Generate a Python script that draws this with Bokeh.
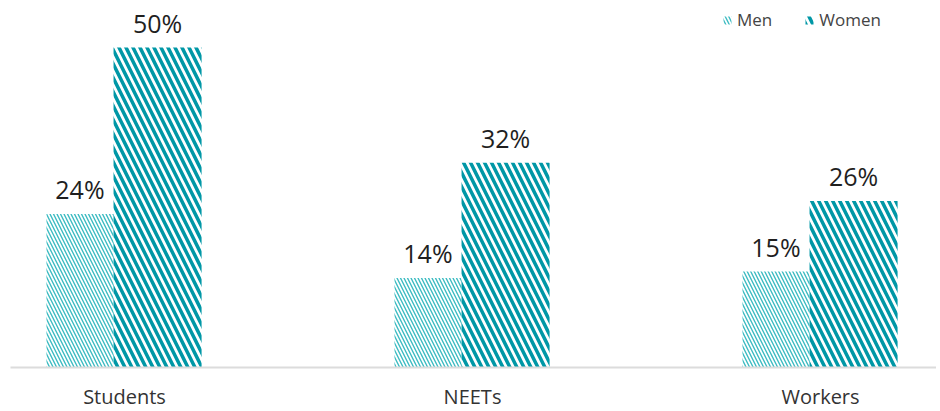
from bokeh.plotting import figure
from bokeh.models import ColumnDataSource, Range1d, FixedTicker, Legend, LegendItem, LabelSet
from bokeh.core.properties import value
from bokeh.embed import file_html
from bokeh.resources import INLINE

categories = ["Students", "NEETs", "Workers"]
men = [24, 14, 15]
women = [50, 32, 26]

idx = list(range(len(categories)))
men_src = ColumnDataSource(dict(x=[i - 0.128 for i in idx], top=men,
                                label=[f"{v}%" for v in men]))
women_src = ColumnDataSource(dict(x=[i + 0.095 for i in idx], top=women,
                                  label=[f"{v}%" for v in women]))

p = figure(frame_width=926, frame_height=359,
           x_range=Range1d(-0.3276, 2.3333), y_range=Range1d(0, 56.1),
           output_backend="svg", toolbar_location=None,
           min_border=0, min_border_left=10, min_border_top=8)

r_men = p.vbar(x="x", top="top", bottom=0, width=0.1925, source=men_src,
               fill_color=None, line_color=None,
               hatch_pattern="\\", hatch_color="#3dbcc2", hatch_scale=7, hatch_weight=1.4)
r_women = p.vbar(x="x", top="top", bottom=0, width=0.253, source=women_src,
                 fill_color=None, line_color=None,
                 hatch_pattern="\\", hatch_color="#0097a6", hatch_scale=14, hatch_weight=3.5)

for src in (men_src, women_src):
    p.add_layout(LabelSet(x="x", y="top", text="label", source=src, text_align="center",
                          text_baseline="alphabetic", y_offset=15,
                          text_font=value("Open Sans"), text_font_size="25px",
                          text_color="#1f1f1f"))

p.xaxis.ticker = FixedTicker(ticks=idx)
p.xaxis.major_label_overrides = {i: c for i, c in zip(idx, categories)}
p.xaxis.major_tick_line_color = None
p.xaxis.minor_tick_line_color = None
p.xaxis.major_tick_out = 0
p.xaxis.axis_line_color = "#dcdcdc"
p.xaxis.axis_line_width = 2
p.xaxis.major_label_standoff = 15
p.xaxis.major_label_text_font = "Open Sans"
p.xaxis.major_label_text_font_size = "20px"
p.xaxis.major_label_text_color = "#333333"
p.yaxis.visible = False
p.xgrid.visible = False
p.ygrid.visible = False
p.outline_line_color = None

legend = Legend(items=[LegendItem(label="Men", renderers=[r_men]),
                       LegendItem(label="Women", renderers=[r_women])],
                orientation="horizontal", location=(712, 336), padding=4, margin=0,
                spacing=32, glyph_width=10, glyph_height=10, label_standoff=5,
                label_text_font="Open Sans", label_text_font_size="17px",
                label_text_color="#444444", border_line_color=None,
                background_fill_alpha=0)
p.add_layout(legend)

open("out.html", "w").write(file_html(p, INLINE))
